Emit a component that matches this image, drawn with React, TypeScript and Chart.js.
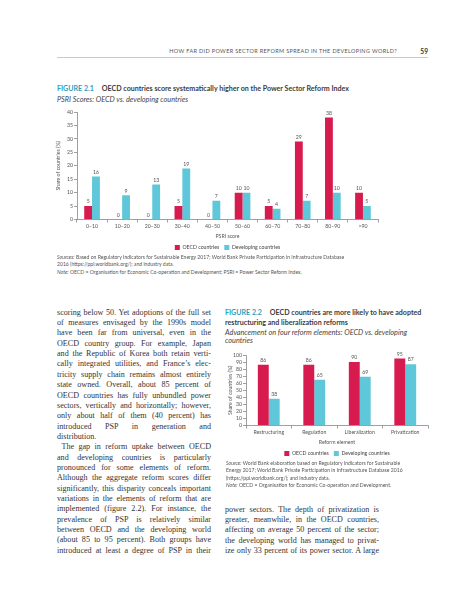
import React, { useEffect, useRef } from "react";
import { Chart, registerables } from "chart.js";

Chart.register(...registerables);

// ---------- Figure 2.1 data ----------
const psriBins = ["0–10", "10–20", "20–30", "30–40", "40–50", "50–60", "60–70", "70–80", "80–90", ">90"];
const psriOecd = [5, 0, 0, 5, 0, 10, 5, 29, 38, 10];
const psriDeveloping = [16, 9, 13, 19, 7, 10, 4, 7, 10, 5];
const psriMax = 40;
const psriStep = 5;

// ---------- Figure 2.2 data ----------
const reformElements = ["Restructuring", "Regulation", "Liberalization", "Privatization"];
const reformOecd = [86, 86, 90, 95];
const reformDeveloping = [38, 65, 69, 87];
const reformMax = 100;
const reformStep = 10;

const seriesNames = ["OECD countries", "Developing countries"];

const RED = "#d81b4e";
const CYAN = "#5ec7d9";
const AXIS = "#777";
const TXT = "#555";
const SANS = "Lato, 'Open Sans', sans-serif";
const SERIF = "'Liberation Serif', 'DejaVu Serif', serif";

const valueLabels = {
  id: "valueLabels",
  afterDatasetsDraw(chart: any) {
    const ctx = chart.ctx;
    ctx.save();
    ctx.font = `5.2px ${SANS}`;
    ctx.fillStyle = TXT;
    ctx.textAlign = "center";
    ctx.textBaseline = "bottom";
    chart.data.datasets.forEach((ds: any, i: number) => {
      const meta = chart.getDatasetMeta(i);
      meta.data.forEach((bar: any, j: number) => {
        ctx.fillText(String(ds.data[j]), bar.x, bar.y - 1.8);
      });
    });
    ctx.restore();
  },
};

type BarProps = {
  labels: string[];
  a: number[];
  b: number[];
  max: number;
  step: number;
  xTitle: string;
  width: number;
  height: number;
  left: number;
  top: number;
  padTop: number;
  padRight: number;
  yAxisWidth: number;
  yTitlePad: number;
  catPct: number;
};

function BarChart(p: BarProps) {
  const ref = useRef<HTMLCanvasElement | null>(null);
  useEffect(() => {
    if (!ref.current) return;
    const font = { family: SANS, size: 5.2 };
    const chart = new Chart(ref.current, {
      type: "bar",
      data: {
        labels: p.labels,
        datasets: [
          { label: seriesNames[0], data: p.a, backgroundColor: RED, borderWidth: 0, categoryPercentage: p.catPct, barPercentage: 1 },
          { label: seriesNames[1], data: p.b, backgroundColor: CYAN, borderWidth: 0, categoryPercentage: p.catPct, barPercentage: 1 },
        ],
      },
      options: {
        responsive: false,
        animation: false,
        layout: { padding: { top: p.padTop, right: p.padRight, left: 0, bottom: 0 } },
        plugins: {
          tooltip: { enabled: false },
          legend: {
            position: "bottom",
            fullSize: false,
            labels: { boxWidth: 5, boxHeight: 5, padding: 5, font, color: "#444" },
          },
        },
        scales: {
          x: {
            grid: { drawOnChartArea: false, drawTicks: true, tickLength: 3, color: AXIS, lineWidth: 0.7 },
            border: { display: true, color: AXIS, width: 0.7 },
            ticks: { font, color: TXT, padding: 1, maxRotation: 0, autoSkip: false },
            title: { display: true, text: p.xTitle, font, color: TXT, padding: 0 },
            afterFit: (s: any) => {
              s.height = 20.3;
            },
          },
          y: {
            min: 0,
            max: p.max,
            grid: { drawOnChartArea: false, drawTicks: true, tickLength: 3, color: AXIS, lineWidth: 0.7 },
            border: { display: true, color: AXIS, width: 0.7 },
            ticks: { stepSize: p.step, font, color: TXT, padding: 1, autoSkip: false },
            title: { display: true, text: "Share of countries (%)", font, color: TXT, padding: { top: p.yTitlePad, bottom: 0 } },
            afterFit: (s: any) => {
              s.width = p.yAxisWidth;
            },
          },
        },
      },
      plugins: [valueLabels],
    } as any);
    return () => chart.destroy();
  }, []);
  return (
    <canvas
      ref={ref}
      width={p.width}
      height={p.height}
      style={{ position: "absolute", left: p.left, top: p.top, width: p.width, height: p.height }}
    />
  );
}

const leftLines = [
  "scoring below 50. Yet adoptions of the full set",
  "of measures envisaged by the 1990s model",
  "have been far from universal, even in the",
  "OECD country group. For example, Japan",
  "and the Republic of Korea both retain verti-",
  "cally integrated utilities, and France’s elec-",
  "tricity supply chain remains almost entirely",
  "state owned. Overall, about 85 percent of",
  "OECD countries has fully unbundled power",
  "sectors, vertically and horizontally; however,",
  "only about half of them (40 percent) has",
  "introduced PSP in generation and",
  "distribution.",
  "The gap in reform uptake between OECD",
  "and developing countries is particularly",
  "pronounced for some elements of reform.",
  "Although the aggregate reform scores differ",
  "significantly, this disparity conceals important",
  "variations in the elements of reform that are",
  "implemented (figure 2.2). For instance, the",
  "prevalence of PSP is relatively similar",
  "between OECD and the developing world",
  "(about 85 to 95 percent). Both groups have",
  "introduced at least a degree of PSP in their",
];

const rightLines = [
  "power sectors. The depth of privatization is",
  "greater, meanwhile, in the OECD countries,",
  "affecting on average 50 percent of the sector;",
  "the developing world has managed to privat-",
  "ize only 33 percent of its power sector. A large",
];

function Text({ x, cy, size, lh, children, style }: any) {
  return (
    <div
      style={{
        position: "absolute",
        left: x,
        top: cy - lh / 2,
        lineHeight: lh + "px",
        fontSize: size,
        whiteSpace: "nowrap",
        ...style,
      }}
    >
      {children}
    </div>
  );
}

function BodyColumn({ lines, x, y0, step, plainEnd, indentAt }: any) {
  return (
    <>
      {lines.map((t: string, i: number) => (
        <div
          key={i}
          style={{
            position: "absolute",
            left: x + (indentAt === i ? 4.5 : 0),
            top: y0 + i * step - 5.3,
            width: 154 - (indentAt === i ? 4.5 : 0),
            lineHeight: "10px",
            fontSize: 8.1,
            fontFamily: SERIF,
            color: "#333",
            whiteSpace: "nowrap",
            textAlign: "justify",
            textAlignLast: plainEnd === i ? "left" : "justify",
          }}
        >
          {t}
        </div>
      ))}
    </>
  );
}

export default function App() {
  const note = { fontFamily: SANS, fontSize: 5.1, color: TXT } as any;
  const figTitle = { fontFamily: SANS, fontSize: 7.1, fontWeight: 700, color: "#3c3c3c" } as any;
  const figSub = { fontFamily: SANS, fontSize: 7.3, fontStyle: "italic", color: "#444" } as any;
  return (
    <div style={{ position: "absolute", left: 0, top: 0, width: 457, height: 600, background: "#fff", overflow: "hidden" }}>
      {/* running header */}
      <div
        style={{
          position: "absolute",
          right: 60,
          top: 47.5,
          lineHeight: "7px",
          fontSize: 5.5,
          letterSpacing: 0.35,
          fontFamily: SANS,
          color: "#555",
          whiteSpace: "nowrap",
        }}
      >
        HOW FAR DID POWER SECTOR REFORM SPREAD IN THE DEVELOPING WORLD?
      </div>
      <div
        style={{
          position: "absolute",
          right: 29,
          top: 47.5,
          lineHeight: "7px",
          fontSize: 6.6,
          fontWeight: 700,
          fontFamily: SANS,
          color: "#333",
        }}
      >
        59
      </div>
      <div style={{ position: "absolute", left: 57, top: 56.5, width: 371, height: 0.8, background: "#c9c9c9" }} />

      {/* Figure 2.1 */}
      <Text x={57} cy={89} size={7.1} lh={8} style={figTitle}>
        <span style={{ color: "#2a9fc0" }}>FIGURE 2.1</span>
        <span style={{ marginLeft: 8 }}>OECD countries score systematically higher on the Power Sector Reform Index</span>
      </Text>
      <Text x={57} cy={99.5} size={7.3} lh={8} style={figSub}>
        PSRI Scores: OECD vs. developing countries
      </Text>

      <BarChart
        labels={psriBins}
        a={psriOecd}
        b={psriDeveloping}
        max={psriMax}
        step={psriStep}
        xTitle="PSRI score"
        width={340}
        height={160}
        left={50}
        top={100}
        padTop={12}
        padRight={12}
        yAxisWidth={27}
        yTitlePad={5.4}
        catPct={0.52}
      />

      <Text x={57} cy={257} size={5.1} lh={7} style={note}>
        <i>Sources:</i> Based on Regulatory Indicators for Sustainable Energy 2017; World Bank Private Participation in Infrastructure Database
      </Text>
      <Text x={57} cy={264.5} size={5.1} lh={7} style={note}>
        2016 (https://ppi.worldbank.org/); and industry data.
      </Text>
      <Text x={57} cy={272} size={5.1} lh={7} style={note}>
        <i>Note:</i> OECD = Organisation for Economic Co-operation and Development; PSRI = Power Sector Reform Index.
      </Text>

      {/* Body text */}
      <BodyColumn lines={leftLines} x={57} y0={313} step={10.35} plainEnd={12} indentAt={13} />
      <BodyColumn lines={rightLines} x={225} y0={510} step={10.3} plainEnd={-1} indentAt={-1} />

      {/* Figure 2.2 */}
      <Text x={225} cy={313} size={7.1} lh={8} style={figTitle}>
        <span style={{ color: "#2a9fc0" }}>FIGURE 2.2</span>
        <span style={{ marginLeft: 8 }}>OECD countries are more likely to have adopted</span>
      </Text>
      <Text x={225} cy={322.5} size={7.1} lh={8} style={figTitle}>
        restructuring and liberalization reforms
      </Text>
      <Text x={225} cy={332.5} size={7.3} lh={8} style={figSub}>
        Advancement on four reform elements: OECD vs. developing
      </Text>
      <Text x={225} cy={341} size={7.3} lh={8} style={figSub}>
        countries
      </Text>

      <BarChart
        labels={reformElements}
        a={reformOecd}
        b={reformDeveloping}
        max={reformMax}
        step={reformStep}
        xTitle="Reform element"
        width={215}
        height={121}
        left={222}
        top={345}
        padTop={10}
        padRight={9}
        yAxisWidth={24}
        yTitlePad={5.4}
        catPct={0.48}
      />

      <Text x={226} cy={463} size={5.1} lh={7} style={note}>
        <i>Source:</i> World Bank elaboration based on Regulatory Indicators for Sustainable
      </Text>
      <Text x={226} cy={470.5} size={5.1} lh={7} style={note}>
        Energy 2017; World Bank Private Participation in Infrastructure Database 2016
      </Text>
      <Text x={226} cy={478} size={5.1} lh={7} style={note}>
        (https://ppi.worldbank.org/); and industry data.
      </Text>
      <Text x={226} cy={485.5} size={5.1} lh={7} style={note}>
        <i>Note:</i> OECD = Organisation for Economic Co-operation and Development.
      </Text>
    </div>
  );
}
